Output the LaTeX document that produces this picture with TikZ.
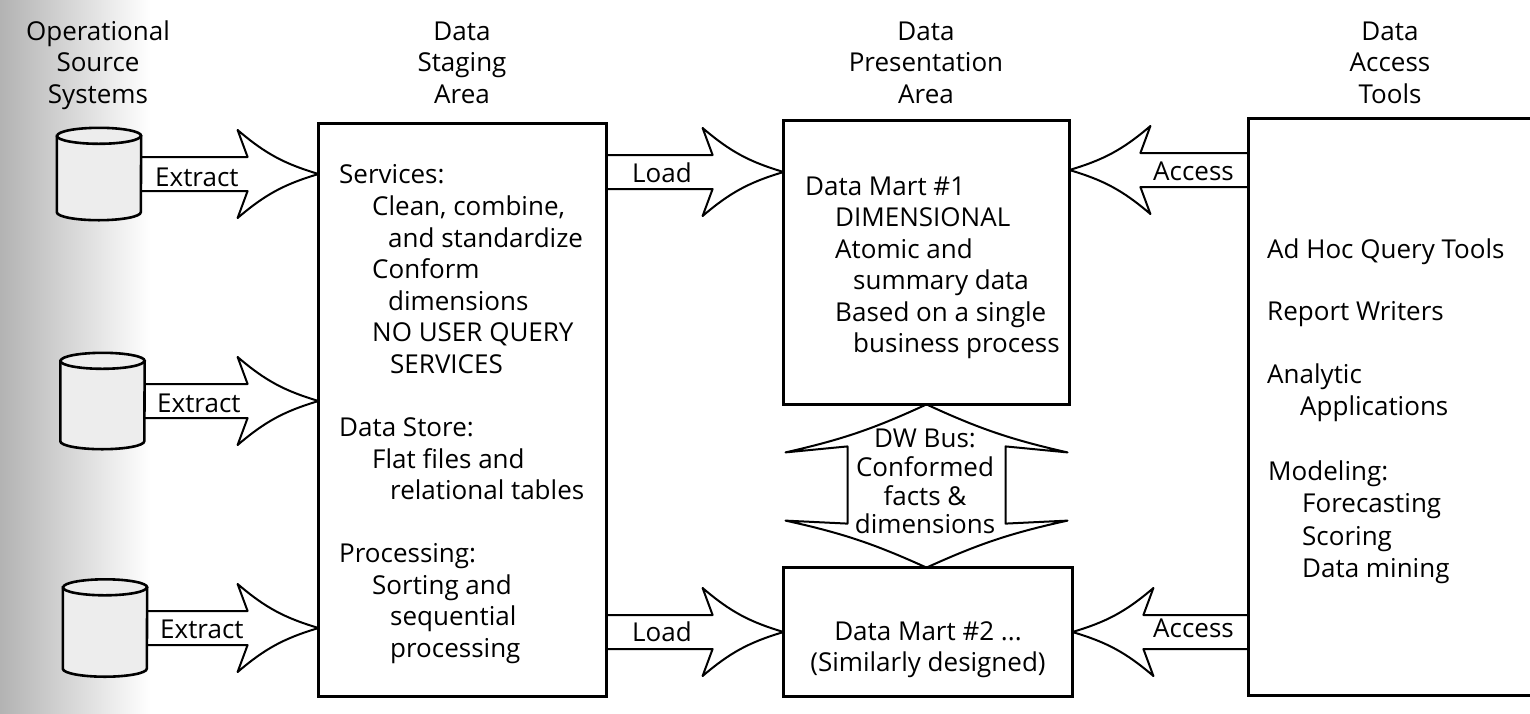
\documentclass[tikz,border=0pt]{standalone}
\usepackage{fontspec}
\setmainfont{Open Sans}
\usetikzlibrary{calc}
\newcommand\blockarrow[2]{%
  \coordinate (bas) at (#1);
  \coordinate (bat) at (#2);
  \coordinate (bah) at ($(bat)!71pt!(bas)$);
  \coordinate (bab) at ($(bat)!81pt!(bas)$);
  \draw[arrowline] ($(bas)!17pt!90:(bat)$) -- ($(bah)!17pt!90:(bat)$) -- ($(bab)!44pt!90:(bat)$)
     to[bend right=12] (bat) to[bend right=12] ($(bab)!44pt!-90:(bat)$)
     -- ($(bah)!17pt!-90:(bat)$) -- ($(bas)!17pt!-90:(bat)$);
}
\newcommand\dbcyl[1]{%
  \draw[cylline] ([yshift=-8pt]#1.north west) -- ([yshift=8pt]#1.south west)
     arc[start angle=180,end angle=360,x radius=42pt,y radius=8pt]
     -- ([yshift=-8pt]#1.north east)
     arc[start angle=0,end angle=180,x radius=42pt,y radius=8pt] -- cycle;
  \draw[cylline,fill=none] ([yshift=-8pt]#1.north west)
     arc[start angle=180,end angle=360,x radius=42pt,y radius=8pt];
}
\begin{document}
\begin{tikzpicture}[x=1pt,y=-1pt,
  txt/.style={inner sep=0pt, anchor=base west, font=\fontsize{26}{31.5}\selectfont},
  hdr/.style={inner sep=0pt, anchor=base, font=\fontsize{26}{31.5}\selectfont},
  boxline/.style={draw=black, line width=2.8pt, fill=white, inner sep=0pt},
  cylnode/.style={draw=none, inner sep=0pt, minimum width=84pt},
  arrowline/.style={draw=black, line width=2pt, fill=white, line join=round},
  cylline/.style={draw=black, line width=2.6pt, fill=gray!14}]
\useasboundingbox (0,0) rectangle (1530,713);
\clip (0,0) rectangle (1530,713);
\fill[white] (0,0) rectangle (1530,713);
\shade[left color=gray!60, right color=white] (0,0) rectangle (150,713);

% named nodes (positions)
\node[cylnode, minimum height=92pt] (c1) at (99,174) {};
\node[cylnode, minimum height=96pt] (c2) at (102.5,401) {};
\node[cylnode, minimum height=97pt] (c3) at (105,628) {};
\node[boxline, draw=none, fill=none, minimum width=285pt, minimum height=570pt] (stage) at (462.5,410) {};
\node[boxline, draw=none, fill=none, minimum width=283pt, minimum height=281pt] (dm1) at (926.5,262.5) {};
\node[boxline, draw=none, fill=none, minimum width=286pt, minimum height=126pt] (dm2) at (928,632) {};
\node[boxline, draw=none, fill=none, minimum width=295pt, minimum height=574pt] (acc) at (1397.5,407) {};
\coordinate (rowload) at (0,172);
\coordinate (rowacc) at (0,170);

% block arrows
\blockarrow{c1.east}{stage.west |- c1.east}
\blockarrow{c2.east}{stage.west |- c2.east}
\blockarrow{c3.east}{stage.west |- c3.east}
\blockarrow{stage.east |- rowload}{dm1.west |- rowload}
\blockarrow{stage.east |- dm2.west}{dm2.west}
\blockarrow{acc.west |- rowacc}{dm1.east |- rowacc}
\blockarrow{acc.west |- dm2.east}{dm2.east}

% DW bus double arrow
\draw[arrowline] let \p1=(dm1.south), \p2=(dm2.north) in
  (\x1,\y1) to[bend left=6] (\x1-141pt,\y1-48pt) -- (\x1-79pt,\y1-42pt)
  -- (\x1-79pt,\y2+44pt) -- (\x1-141pt,\y2+47pt) to[bend left=6] (\x1,\y2)
  to[bend left=6] (\x1+141pt,\y2+47pt) -- (\x1+79pt,\y2+44pt)
  -- (\x1+79pt,\y1-42pt) -- (\x1+141pt,\y1-48pt) to[bend left=6] (\x1,\y1);

% boxes
\draw[boxline] (stage.north west) rectangle (stage.south east);
\draw[boxline] (dm1.north west) rectangle (dm1.south east);
\draw[boxline] (dm2.north west) rectangle (dm2.south east);
\draw[boxline] (acc.north west) rectangle (acc.south east);

% cylinders
\dbcyl{c1}
\dbcyl{c2}
\dbcyl{c3}

% headers
\node[hdr] (h1a) at (98,40) {Operational};
\node[hdr] (h1b) at (98,71.5) {Source};
\node[hdr] (h1c) at (98,103) {Systems};
\node[hdr] (h2a) at (462,40) {Data};
\node[hdr] (h2b) at (462,71.5) {Staging};
\node[hdr] (h2c) at (462,103) {Area};
\node[hdr] (h3a) at (926,40) {Data};
\node[hdr] (h3b) at (926,71.5) {Presentation};
\node[hdr] (h3c) at (926,103) {Area};
\node[hdr] (h4a) at (1390,40) {Data};
\node[hdr] (h4b) at (1390,71.5) {Access};
\node[hdr] (h4c) at (1390,103) {Tools};

% arrow labels
\node[txt] (lx1) at (155,186) {Extract};
\node[txt] (lx2) at (157,412) {Extract};
\node[txt] (lx3) at (160,638) {Extract};
\node[txt] (ll1) at (632,182) {Load};
\node[txt] (ll2) at (632,641) {Load};
\node[txt] (la1) at (1153,180) {Access};
\node[txt] (la2) at (1153,637) {Access};

% staging area text
\node[txt] (s1) at (339,183) {Services:};
\node[txt] (s2) at (372,215) {Clean, combine,};
\node[txt] (s3) at (388,247) {and standardize};
\node[txt] (s4) at (372,278) {Conform};
\node[txt] (s5) at (388,310) {dimensions};
\node[txt] (s6) at (372,341) {NO USER QUERY};
\node[txt] (s7) at (390,373) {SERVICES};
\node[txt] (s8) at (339,436) {Data Store:};
\node[txt] (s9) at (372,468) {Flat files and};
\node[txt] (s10) at (390,499) {relational tables};
\node[txt] (s11) at (339,562) {Processing:};
\node[txt] (s12) at (372,594) {Sorting and};
\node[txt] (s13) at (390,625) {sequential};
\node[txt] (s14) at (390,657) {processing};

% data mart 1
\node[txt] (d1) at (805,195) {Data Mart \#1};
\node[txt] (d2) at (835,226.5) {DIMENSIONAL};
\node[txt] (d3) at (835,258) {Atomic and};
\node[txt] (d4) at (853,289.5) {summary data};
\node[txt] (d5) at (835,321) {Based on a single};
\node[txt] (d6) at (853,352.5) {business process};

% data mart 2
\node[hdr] (m1) at (928,640) {Data Mart \#2 ...};
\node[hdr] (m2) at (928,671) {(Similarly designed)};

% DW bus
\node[hdr] (b1) at (925,447) {DW Bus:};
\node[hdr] (b2) at (925,476.5) {Conformed};
\node[hdr] (b3) at (925,505) {facts \&};
\node[hdr] (b4) at (925,533) {dimensions};

% access tools
\node[txt] (a1) at (1267,258) {Ad Hoc Query Tools};
\node[txt] (a2) at (1267,320) {Report Writers};
\node[txt] (a3) at (1267,383) {Analytic};
\node[txt] (a4) at (1300,415) {Applications};
\node[txt] (a5) at (1268,480) {Modeling:};
\node[txt] (a6) at (1302,512) {Forecasting};
\node[txt] (a7) at (1302,545) {Scoring};
\node[txt] (a8) at (1302,577) {Data mining};
\end{tikzpicture}
\end{document}
